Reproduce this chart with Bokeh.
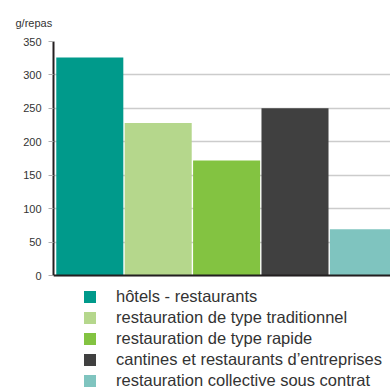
from bokeh.plotting import figure
from bokeh.models import Range1d, FixedTicker, ColumnDataSource, Span, Legend, LegendItem
from bokeh.embed import file_html
from bokeh.resources import INLINE

# ---- data ----
categories = [
    "hôtels - restaurants",
    "restauration de type traditionnel",
    "restauration de type rapide",
    "cantines et restaurants d’entreprises",
    "restauration collective sous contrat",
]
values = [326, 228, 172, 250, 69]
colors = ["#009a8b", "#b5d78c", "#83c341", "#404040", "#7fc4bf"]
y_ticks = [0, 50, 100, 150, 200, 250, 300, 350]
unit_label = "g/repas"

FONT = "Liberation Sans"
TXT = "#333333"

W, H = 390, 388
LEFT, TOP = 53, 41
PX_PER_UNIT = 234 / 350
y_start = 350 - (H - TOP) / PX_PER_UNIT
STEP_PX = 68.4
x_start = -(89.3 - LEFT) / STEP_PX
x_end = x_start + (W - LEFT) / STEP_PX

positions = list(range(len(values)))
src = ColumnDataSource(dict(x=positions, top=values, color=colors, cat=categories))

p = figure(width=W, height=H, x_range=Range1d(x_start, x_end), y_range=Range1d(y_start, 350),
           toolbar_location=None, output_backend="svg", x_axis_type=None,
           min_border_left=LEFT, min_border_right=0, min_border_top=TOP, min_border_bottom=0,
           title=unit_label)
p.outline_line_color = None
p.background_fill_color = "white"
p.border_fill_color = "white"

r = p.vbar(x="x", top="top", width=0.98, bottom=0, color="color", source=src, line_color=None)

p.title.text_font = FONT
p.title.text_font_size = "11px"
p.title.text_font_style = "normal"
p.title.text_color = TXT
p.title.align = "left"
p.title.offset = -38
p.title.standoff = 26

p.xgrid.visible = False
p.ygrid.ticker = FixedTicker(ticks=y_ticks)
p.ygrid.grid_line_color = "#cccccc"
p.ygrid.grid_line_width = 1.5

p.yaxis.ticker = FixedTicker(ticks=y_ticks)
p.yaxis.bounds = (0, 350)
p.yaxis.axis_line_color = "#231f20"
p.yaxis.axis_line_width = 2
p.yaxis.major_tick_line_color = "#b0b0b0"
p.yaxis.major_tick_out = 5
p.yaxis.major_tick_in = 0
p.yaxis.minor_tick_line_color = None
p.yaxis.major_label_standoff = 7
p.yaxis.major_label_text_font = FONT
p.yaxis.major_label_text_font_size = "11px"
p.yaxis.major_label_text_color = TXT

p.add_layout(Span(location=0, dimension="width", line_color="#231f20", line_width=2))

items = [LegendItem(label=c, renderers=[r], index=i) for i, c in enumerate(categories)]
legend = Legend(items=items, location=(29, -2), orientation="vertical",
                glyph_width=15, glyph_height=15, label_height=15, spacing=2,
                label_standoff=19, padding=0, margin=0,
                label_text_font=FONT, label_text_font_size="16.5px", label_text_color=TXT,
                border_line_color=None, background_fill_alpha=0)
p.add_layout(legend, "center")

open("out.html", "w").write(file_html(p, INLINE))
